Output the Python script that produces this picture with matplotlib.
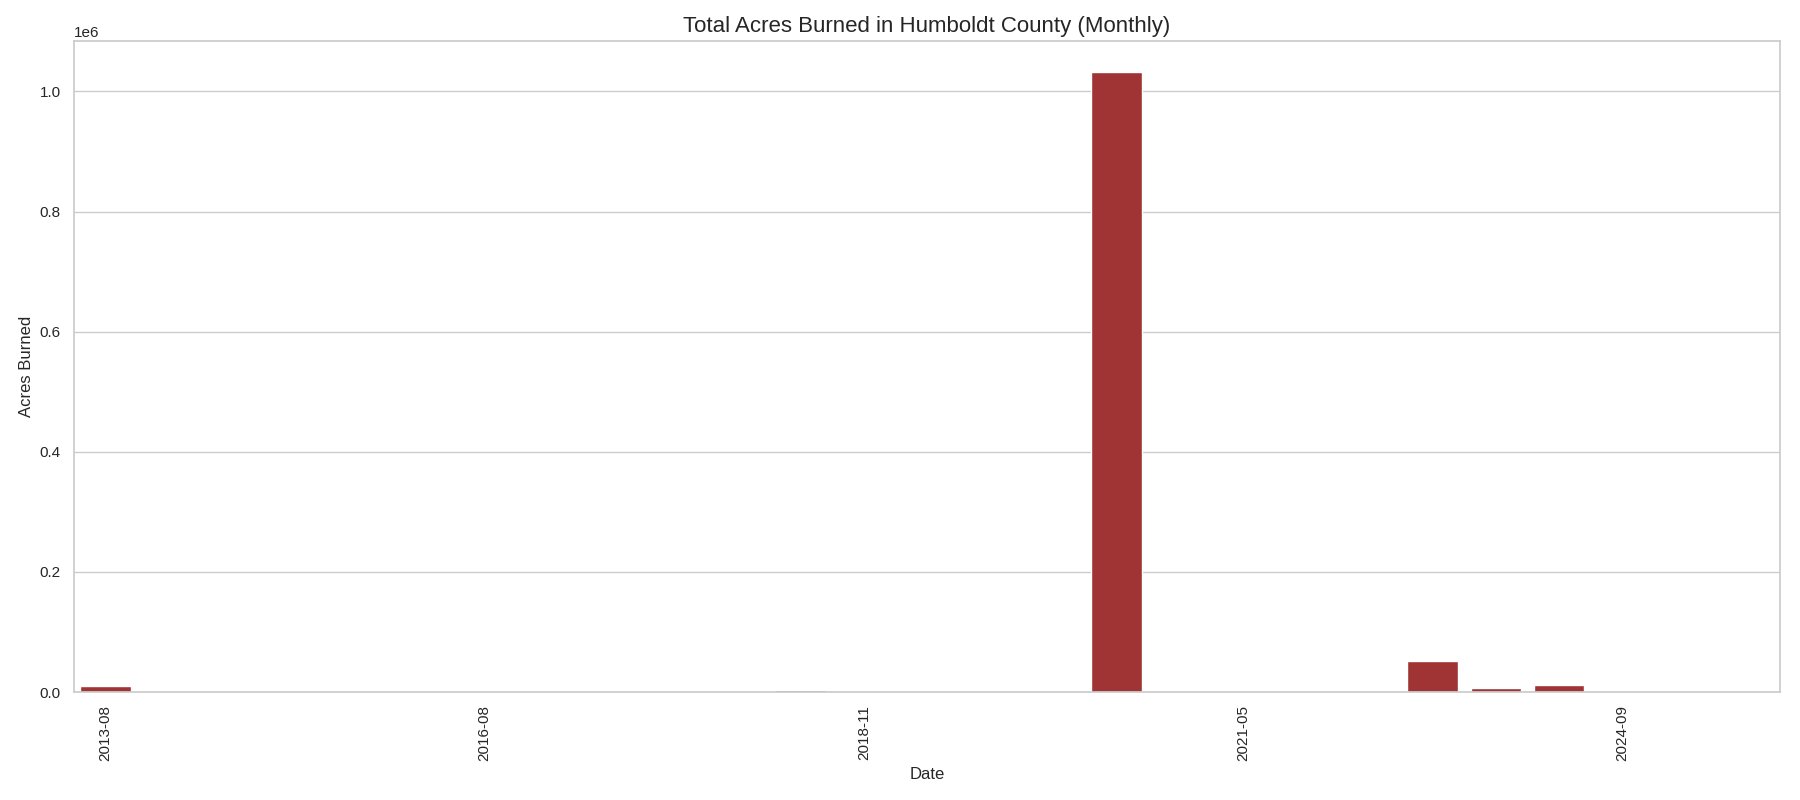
import numpy as np
import pandas as pd
import matplotlib
matplotlib.use("Agg")
import matplotlib.pyplot as plt
import seaborn as sns

# monthly totals (only months with recorded fires)
months = ["2013-08", "2014-07", "2014-08", "2015-06", "2015-07", "2015-08",
          "2016-08", "2017-06", "2017-07", "2017-08", "2018-06", "2018-07",
          "2018-11", "2019-06", "2019-09", "2020-07", "2020-08", "2020-09",
          "2021-05", "2021-08", "2022-07", "2023-08", "2023-09", "2024-06",
          "2024-09", "2025-06", "2025-07"]
acres = [10600, 40, 120, 30, 150, 60,
         80, 25, 200, 90, 50, 2500,
         30, 45, 110, 70, 1032600, 140,
         20, 600, 100, 51400, 6100, 11200,
         35, 60, 25]

df = pd.DataFrame({"Date": months, "Acres": acres})

sns.set_theme(style="whitegrid")
plt.rcParams['font.family'] = ['Liberation Sans', 'DejaVu Sans']

fig, ax = plt.subplots(figsize=(18, 8), dpi=100)
sns.barplot(data=df, x="Date", y="Acres", color="firebrick", ax=ax)

ax.set_xticks(range(0, len(months), 6))
ax.set_xticklabels(months[::6], rotation=90)
ax.set_title("Total Acres Burned in Humboldt County (Monthly)", fontsize=16)
ax.set_xlabel("Date", fontsize=12)
ax.set_ylabel("Acres Burned", fontsize=12)
ax.tick_params(labelsize=11)

fig.subplots_adjust(left=0.041, right=0.989, top=0.949, bottom=0.135)
fig.savefig("out.png")
